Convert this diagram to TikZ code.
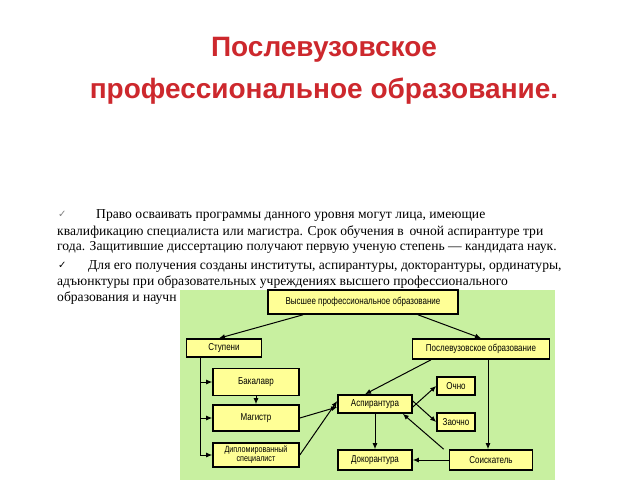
\documentclass[tikz,border=0pt]{standalone}
\usepackage{fontspec}
\setmainfont{Liberation Serif}
\newfontfamily\titlefont{Liberation Sans}
\newfontfamily\boxfont{Liberation Sans}[FakeStretch=0.8]
\newfontfamily\symfont{DejaVu Sans}
\usetikzlibrary{arrows.meta}
\definecolor{bggreen}{RGB}{200,240,160}
\definecolor{boxyellow}{RGB}{255,255,150}
\definecolor{titlered}{RGB}{205,40,45}
\tikzset{
  box/.style={draw=black, line width=1.6pt, fill=boxyellow, inner sep=1pt, align=center, font=\boxfont\fontsize{10}{10.5}\selectfont},
  arr/.style={-{Latex[length=6pt,width=5pt]}, line width=1pt},
  line/.style={anchor=west, inner sep=0pt, font=\fontsize{13.6}{15}\selectfont},
  ttl/.style={font=\titlefont\bfseries\fontsize{28}{30}\selectfont}
}
\begin{document}
\begin{tikzpicture}[x=1pt,y=-1pt]
\useasboundingbox (0,0) rectangle (640,480);
\fill[white] (0,0) rectangle (640,480);
\node[ttl, text=titlered, align=center, font=\titlefont\bfseries\fontsize{28}{42}\selectfont] (t) at (324,71) {Послевузовское\\профессиональное образование.};
% text
\node[line, text=gray] (c1) at (58,214) {\symfont\fontsize{10}{10}\selectfont ✓};
\node[line] (l1) at (96,216) {Право осваивать программы данного уровня могут лица, имеющие};
\node[line] (l2) at (57,232) {квалификацию специалиста или магистра. Срок обучения в\, очной аспирантуре три};
\node[line] (l3) at (57,247) {года. Защитившие диссертацию получают первую ученую степень — кандидата наук.};
\node[line] (c2) at (58,265) {\symfont\fontsize{10}{10}\selectfont ✓};
\node[line] (l4) at (88,267) {Для его получения созданы институты, аспирантуры, докторантуры, ординатуры,};
\node[line] (l5) at (57,282) {адъюнктуры при образовательных учреждениях высшего профессионального};
\node[line] (l6) at (57,298) {образования и научн};
% diagram
\fill[bggreen] (180,290) rectangle (555,480);
\node[box, minimum width=190pt, minimum height=24pt] (v) at (363,302) {Высшее профессиональное образование};
\node[box, minimum width=75pt, minimum height=18pt] (s) at (224,348) {Ступени};
\node[box, minimum width=137pt, minimum height=20pt] (p) at (481,349) {Послевузовское образование};
\node[box, minimum width=86pt, minimum height=27pt] (b) at (256,382) {Бакалавр};
\node[box, minimum width=86pt, minimum height=26pt] (m) at (256,418) {Магистр};
\node[box, minimum width=86pt, minimum height=24pt, font=\boxfont\fontsize{9}{9}\selectfont] (d) at (256,455) {Дипломированный\\специалист};
\node[box, minimum width=74pt, minimum height=18pt] (a) at (375,404) {Аспирантура};
\node[box, minimum width=38pt, minimum height=18pt] (o) at (456,386) {Очно};
\node[box, minimum width=38pt, minimum height=18pt] (z) at (456,422) {Заочно};
\node[box, minimum width=74pt, minimum height=20pt] (k) at (375,460) {Докорантура};
\node[box, minimum width=83pt, minimum height=20pt] (sk) at (491,460) {Соискатель};
\draw[arr] ([xshift=-60pt]v.south) -- ([xshift=-5pt]s.north);
\draw[arr] ([xshift=55pt]v.south) -- ([xshift=0pt]p.north);
\coordinate (sv) at (200,357);
\draw[line width=1pt] (sv) -- (200,455);
\draw[arr] (200,382) -- (b.west);
\draw[arr] (200,418) -- (m.west);
\draw[arr] (200,455) -- (d.west);
\draw[arr] (b.south) -- (m.north);
\draw[arr] (m.east) -- ([yshift=-3pt]a.west);
\draw[arr] (d.east) -- ([yshift=3pt]a.west);
\draw[arr] ([xshift=-50pt]p.south) -- ([xshift=-10pt]a.north);
\draw[arr] (488,359) -- (sk.north -| 488,0);
\draw[arr] ([yshift=-3pt]a.east) -- (o.west);
\draw[arr] ([yshift=3pt]a.east) -- (z.west);
\draw[arr] (a.south) -- (k.north);
\draw[arr] ([xshift=-5pt]sk.north west) -- ([xshift=-10pt]a.south east);
\draw[arr] (sk.west) -- (k.east);
\end{tikzpicture}
\end{document}
